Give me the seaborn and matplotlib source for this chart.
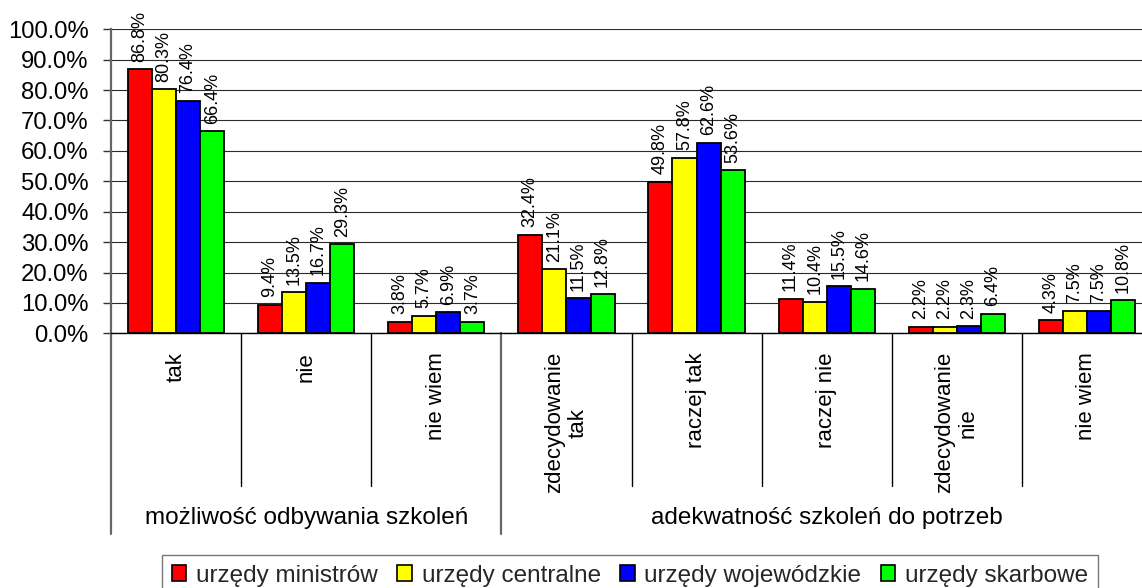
import matplotlib
matplotlib.use("Agg")
import matplotlib.pyplot as plt
import matplotlib.patches as mpatches
import matplotlib.transforms as mtransforms
from matplotlib.ticker import FuncFormatter, MultipleLocator
import pandas as pd
import seaborn as sns

# --- data -------------------------------------------------------------
groups = ["możliwość odbywania szkoleń", "adekwatność szkoleń do potrzeb"]
group_sizes = [3, 5]
answers = ["tak", "nie", "nie wiem",
           "zdecydowanie\ntak", "raczej tak", "raczej nie",
           "zdecydowanie\nnie", "nie wiem"]
offices = ["urzędy ministrów", "urzędy centralne",
           "urzędy wojewódzkie", "urzędy skarbowe"]

ministrow = [86.8, 9.4, 3.8, 32.4, 49.8, 11.4, 2.2, 4.3]
centralne = [80.3, 13.5, 5.7, 21.1, 57.8, 10.4, 2.2, 7.5]
wojewodzkie = [76.4, 16.7, 6.9, 11.5, 62.6, 15.5, 2.3, 7.5]
skarbowe = [66.4, 29.3, 3.7, 12.8, 53.6, 14.6, 6.4, 10.8]

colors = ["#FF0000", "#FFFF00", "#0000FF", "#00FF00"]

# --- long table for seaborn -------------------------------------------
group_of = []
for g, n in zip(groups, group_sizes):
    group_of += [g] * n
keys = [f"{i}|{g}|{a}" for i, (g, a) in enumerate(zip(group_of, answers))]

rows = []
for office, vals in zip(offices, [ministrow, centralne, wojewodzkie, skarbowe]):
    for k, v in zip(keys, vals):
        rows.append({"odpowiedz": k, "urzad": office, "procent": v})
df = pd.DataFrame(rows)

# --- figure -------------------------------------------------------------
sns.set_style("white")
plt.rcParams["font.family"] = ["Liberation Sans", "DejaVu Sans"]

W, H = 1142, 588
fig = plt.figure(figsize=(W / 100, H / 100), dpi=100)
x0, x1, y_top, y_zero = 111, 1152, 29.3, 333.3
ax = fig.add_axes([x0 / W, (H - y_zero) / H, (x1 - x0) / W, (y_zero - y_top) / H])

sns.barplot(data=df, x="odpowiedz", y="procent", hue="urzad",
            order=keys, hue_order=offices, palette=colors, saturation=1,
            width=0.74, edgecolor="black", linewidth=1.3, legend=False, ax=ax)

ax.set_xlim(-0.5, len(keys) - 0.5)
ax.set_ylim(0, 100)
ax.yaxis.set_major_locator(MultipleLocator(10))
ax.yaxis.set_major_formatter(FuncFormatter(lambda v, _: f"{v:.1f}%"))
ax.set_xlabel("")
ax.set_ylabel("")
ax.set_xticks([])
ax.grid(axis="y", color="#2a2a2a", linewidth=0.8)
ax.set_axisbelow(True)
ax.tick_params(axis="y", which="major", left=True, length=6, width=1,
               color="#333333", pad=10, labelsize=17.2, labelcolor="black")

for side in ["top", "right"]:
    ax.spines[side].set_visible(False)
ax.spines["left"].set_color("#666666")
ax.spines["left"].set_linewidth(1.6)
ax.spines["bottom"].set_color("black")
ax.spines["bottom"].set_linewidth(1.0)

# value labels above the bars
for cont in ax.containers:
    ax.bar_label(cont, fmt="%.1f%%", rotation=90, padding=5.5,
                 fontsize=13, color="black")

# multi-level category axis
trans = mtransforms.blended_transform_factory(ax.transData, ax.transAxes)
px = 1.0 / (y_zero - y_top)  # one pixel in axes-fraction units
label_top = -(352 - y_zero) * px
inner_end = -(486 - y_zero) * px
outer_end = -(534 - y_zero) * px
group_y = -(518 - y_zero) * px

for i, a in enumerate(answers):
    ax.text(i, label_top, a, transform=trans, rotation=90, ha="center",
            va="top", multialignment="center", fontsize=16, color="black",
            linespacing=1.15)

bounds = [-0.5]
for n in group_sizes:
    bounds.append(bounds[-1] + n)
outer = set(bounds)
for b in [i - 0.5 for i in range(len(keys) + 1)]:
    if b in outer:
        ax.plot([b, b], [0, outer_end], transform=trans, color="#666666",
                linewidth=1.6, clip_on=False)
    else:
        ax.plot([b, b], [0, inner_end], transform=trans, color="black",
                linewidth=1.0, clip_on=False)

for g, lo, hi in zip(groups, bounds[:-1], bounds[1:]):
    ax.text((lo + hi) / 2, group_y, g, transform=trans, ha="center",
            va="center", fontsize=17.5, color="black")

# legend along the bottom edge
handles = [mpatches.Patch(facecolor=c, edgecolor="black", linewidth=1.2, label=o)
           for c, o in zip(colors, offices)]
leg = fig.legend(handles=handles, loc="upper center",
                 bbox_to_anchor=(630 / W, (H - 555) / H), ncol=4,
                 fontsize=17.5, frameon=True, fancybox=False, edgecolor="#555555",
                 handlelength=0.6, handleheight=0.6, handletextpad=0.4,
                 columnspacing=0.8, borderpad=0.4, borderaxespad=0)
leg.get_frame().set_linewidth(1.0)

fig.savefig("out.png", dpi=100, facecolor="white")
